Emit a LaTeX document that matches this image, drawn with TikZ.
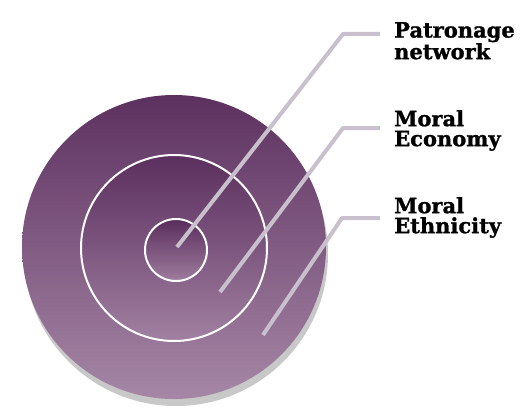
\documentclass[tikz,border=0pt]{standalone}
\usepackage{fontspec}
\newfontfamily\labelfont[FakeBold=1.2]{DejaVu Serif Bold}
\definecolor{plumdark}{RGB}{78,32,80}
\definecolor{plummid}{RGB}{118,78,120}
\definecolor{plumlight}{RGB}{170,140,170}
\definecolor{leader}{RGB}{200,192,204}
\definecolor{shadowgray}{RGB}{200,200,200}
\pgfdeclareverticalshading{outershade}{100bp}{%
  color(0bp)=(plumlight); color(22bp)=(plumlight); color(58bp)=(plummid); color(85bp)=(plumdark); color(100bp)=(plumdark)}
\pgfdeclareverticalshading{middleshade}{100bp}{%
  color(0bp)=(plumlight); color(18bp)=(plumlight); color(55bp)=(plummid); color(85bp)=(plumdark); color(100bp)=(plumdark)}
\pgfdeclareverticalshading{innershade}{100bp}{%
  color(0bp)=(plumlight); color(15bp)=(plumlight); color(55bp)=(plummid); color(82bp)=(plumdark); color(100bp)=(plumdark)}
\begin{document}
\begin{tikzpicture}[x=1pt,y=-1pt,
  ring/.style={draw=white,line width=2pt},
  leaderline/.style={draw=leader,line width=4pt,line join=round},
  lbl/.style={font=\labelfont\fontsize{21}{20}\selectfont,align=left,anchor=north west,inner sep=0pt,text=black}]
\useasboundingbox (0,0) rectangle (526,409);
% shadow of the outer disc
\fill[shadowgray] (176,254) circle[radius=152];
% outer disc
\path[shading=outershade] (174,247) circle[radius=152];
% middle disc
\path[shading=middleshade,ring] (174,248) circle[radius=93];
% inner disc
\path[shading=innershade,ring] (176,250) circle[radius=31];
% labels
\node[lbl] (pat) at (394,22) {Patronage\\network};
\node[lbl] (eco) at (394,110) {Moral\\Economy};
\node[lbl] (eth) at (394,197) {Moral\\Ethnicity};
% leader coordinates
\coordinate (pA) at (177,247);
\coordinate (pK) at (343,34);
\coordinate (pE) at (380,34);
\coordinate (eA) at (220,292);
\coordinate (eK) at (343,128);
\coordinate (eE) at (380,128);
\coordinate (tA) at (263,335);
\coordinate (tK) at (342,218);
\coordinate (tE) at (380,218);
\draw[leaderline] (pA) -- (pK) -- (pE);
\draw[leaderline] (eA) -- (eK) -- (eE);
\draw[leaderline] (tA) -- (tK) -- (tE);
\end{tikzpicture}
\end{document}
